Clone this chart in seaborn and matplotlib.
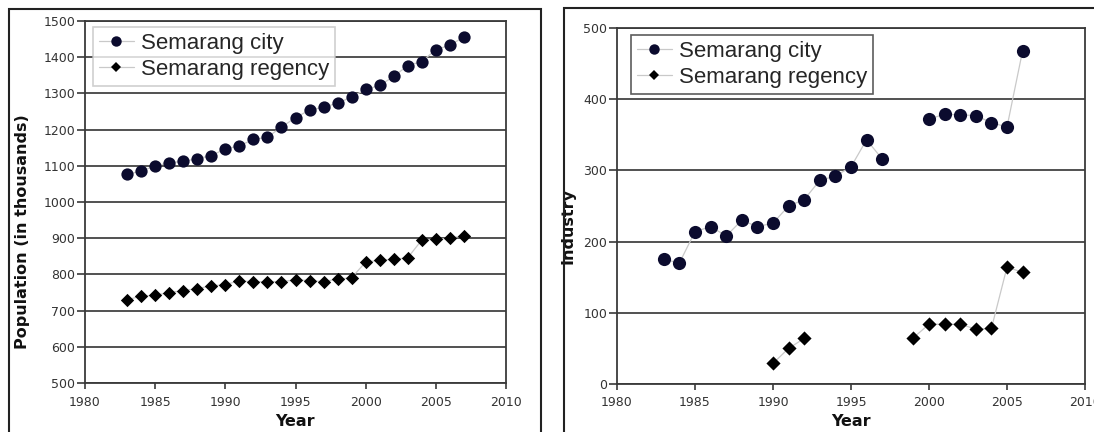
import numpy as np
import pandas as pd
import seaborn as sns
import matplotlib
matplotlib.use("Agg")
import matplotlib.pyplot as plt
from matplotlib.lines import Line2D
from matplotlib.patches import Rectangle

# ---------------- data ----------------
years_pop = list(range(1983, 2008))
city_pop = [1076, 1086, 1099, 1109, 1112, 1120, 1128, 1147, 1155, 1173, 1179, 1207, 1233,
            1254, 1262, 1273, 1290, 1311, 1322, 1347, 1377, 1388, 1421, 1433, 1456]
regency_pop = [730, 740, 742, 750, 755, 761, 768, 772, 782, 780, 780, 780, 785,
               783, 780, 787, 791, 834, 839, 842, 846, 895, 897, 900, 907]

nan = np.nan
years_ind = list(range(1983, 2007))
city_ind = [175, 170, 214, 221, 208, 230, 221, 226, 250, 259, 286, 292, 305, 343, 316,
            nan, nan, 372, 379, 378, 377, 367, 361, 468]
regency_ind = [nan, nan, nan, nan, nan, nan, nan, 29, 50, 64,
               nan, nan, nan, nan, nan, nan, 65, 84, 84, 84, 77, 78, 164, 157]

series_names = ["Semarang city", "Semarang regency"]
pop_ticks = list(range(500, 1501, 100))
ind_ticks = list(range(0, 501, 100))
year_ticks = list(range(1980, 2011, 5))

# ---------------- style ----------------
sns.set_style("white")
plt.rcParams["font.family"] = ["DejaVu Sans"]

CITY_C = "#0b0b2e"
REG_C = "#000000"
LINE_C = "#c9c9c9"
GRID_C = "#333333"
SPINE_C = "#3a3a3a"
TXT_C = "#333333"


def make_df(years, vals):
    df = pd.DataFrame({"year": years, "value": vals})
    df["seg"] = df["value"].isna().cumsum()
    return df.dropna()


def draw_series(ax, years, vals, marker, color, s):
    df = make_df(years, vals)
    sns.lineplot(data=df, x="year", y="value", units="seg", estimator=None,
                 color=LINE_C, lw=0.9, ax=ax, legend=False, zorder=2)
    sns.scatterplot(data=df, x="year", y="value", marker=marker, s=s,
                    color=color, linewidth=0, ax=ax, legend=False, zorder=3)


def style_axes(ax, yticks, ylabel, label_xy, legend_xy, legend_edge):
    ax.set_xlim(1980, 2010)
    ax.set_ylim(yticks[0], yticks[-1])
    ax.set_xticks(year_ticks)
    ax.set_yticks(yticks)
    ax.yaxis.grid(True, color=GRID_C, lw=1.2, zorder=1)
    ax.xaxis.grid(False)
    ax.set_axisbelow(True)
    for sp in ax.spines.values():
        sp.set_visible(True)
        sp.set_color(SPINE_C)
        sp.set_linewidth(1.3)
    ax.tick_params(axis="y", direction="out", length=6, width=1.2, pad=1,
                   labelsize=9, colors=SPINE_C, labelcolor=TXT_C, left=True)
    ax.tick_params(axis="x", direction="out", length=4, width=1.2, pad=5,
                   labelsize=9, colors=SPINE_C, labelcolor=TXT_C, bottom=True)
    ax.set_xlabel("Year", fontsize=11.5, fontweight="bold", color="#111111", labelpad=0)
    ax.set_ylabel(ylabel, fontsize=11.5, fontweight="bold", color="#111111")
    ax.yaxis.set_label_coords(*label_xy)
    ax.xaxis.set_label_coords(0.5, -0.085)
    handles = [
        Line2D([0], [0], color=LINE_C, lw=0.9, marker="o", markersize=7.5,
               markerfacecolor=CITY_C, markeredgewidth=0),
        Line2D([0], [0], color=LINE_C, lw=0.9, marker="D", markersize=5.5,
               markerfacecolor=REG_C, markeredgewidth=0),
    ]
    leg = ax.legend(handles, series_names, loc="upper left", bbox_to_anchor=legend_xy,
                    frameon=True, fancybox=False, handlelength=1.6, handletextpad=0.3,
                    labelspacing=0.25, borderpad=0.25, borderaxespad=0,
                    prop={"family": "Liberation Sans", "size": 16})
    leg.get_frame().set_edgecolor(legend_edge)
    leg.get_frame().set_linewidth(1.2)
    leg.set_zorder(5)


fig = plt.figure(figsize=(10.94, 4.32), dpi=100)
W, H = 1094, 432
ax1 = fig.add_axes([85 / W, 1 - 383 / H, 421 / W, 362 / H])
ax2 = fig.add_axes([617 / W, 1 - 384 / H, 468 / W, 356 / H])

draw_series(ax1, years_pop, city_pop, "o", CITY_C, 78)
draw_series(ax1, years_pop, regency_pop, "D", REG_C, 46)
style_axes(ax1, pop_ticks, "Population (in thousands)", (-0.13, 0.417),
           (0.019, 0.983), "#c4c4c4")

draw_series(ax2, years_ind, city_ind, "o", CITY_C, 90)
draw_series(ax2, years_ind, regency_ind, "D", REG_C, 52)
style_axes(ax2, ind_ticks, "Industry", (-0.088, 0.444),
           (0.030, 0.980), "#333333")

# outer panel frames
fig.add_artist(Rectangle((9 / W, -0.1), (541 - 9) / W, 1.1 - 9 / H,
                         transform=fig.transFigure, fill=False, lw=1.5, ec="#222222"))
fig.add_artist(Rectangle((564 / W, -0.1), 0.6, 1.1 - 8 / H,
                         transform=fig.transFigure, fill=False, lw=1.5, ec="#222222"))

fig.savefig("out.png", dpi=100, facecolor="white")
